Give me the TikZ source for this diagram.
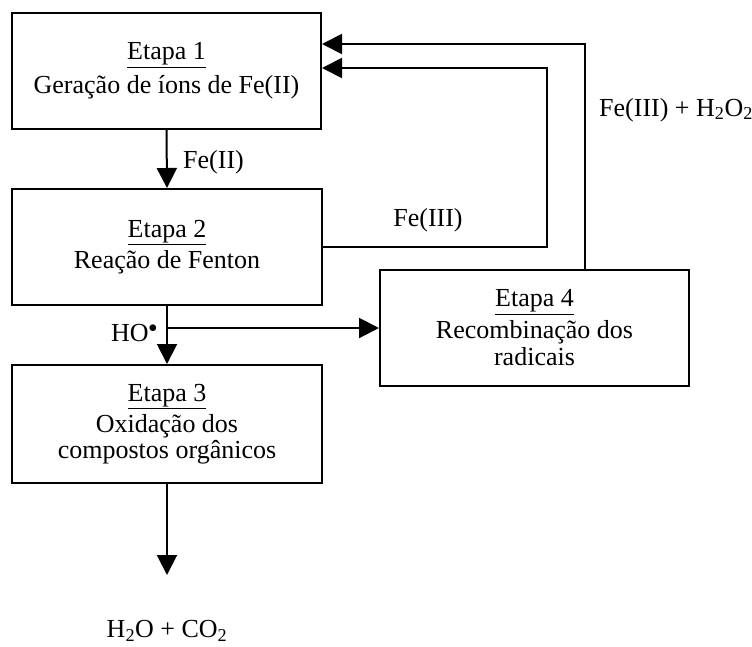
\documentclass[tikz,border=0pt]{standalone}
\usepackage{fontspec}
\setmainfont{Liberation Serif}
\usetikzlibrary{arrows.meta}
\begin{document}
\begin{tikzpicture}[x=1pt,y=-1pt,
  box/.style={draw,line width=2pt,rectangle,inner sep=0pt,align=center,
    font=\fontsize{26}{27}\selectfont},
  arr/.style={line width=2pt,-{Triangle[length=20pt,width=20pt]}},
  lbl/.style={font=\fontsize{26}{27}\selectfont,inner sep=0pt}]
\useasboundingbox (0,0) rectangle (752,646);
\node[box,minimum width=309pt,minimum height=116pt] (b1) at (166.5,71)
  {\underline{Etapa 1}\\[7pt]Geração de íons de Fe(II)};
\node[box,minimum width=310pt,minimum height=116pt] (b2) at (167,247)
  {\underline{Etapa 2}\\[4pt]Reação de Fenton};
\node[box,minimum width=310pt,minimum height=118pt] (b3) at (167,424)
  {\underline{Etapa 3}\\[4pt]Oxidação dos\\[-1pt]compostos orgânicos};
\node[box,minimum width=309pt,minimum height=116pt] (b4) at (534.5,328)
  {\underline{Etapa 4}\\[5pt]Recombinação dos\\radicais};
\coordinate (c1) at (547,68);
\coordinate (c2) at (585,44);
\coordinate (br) at (167,328);
\coordinate (end) at (167,575);
\draw[arr] (b1.south) -- (b2.north);
\draw[arr] (b2.south) -- (b3.north);
\draw[arr] (br) -- (b4.west);
\draw[arr] (b2.east) -| (c1) -- (b1.east |- c1);
\draw[arr] (b4.north -| c2) -- (c2) -- (b1.east |- c2);
\draw[arr] (b3.south) -- (end);
\node[lbl,anchor=west] (l1) at (183,162) {Fe(II)};
\node[lbl] (l2) at (428,220) {Fe(III)};
\node[lbl,anchor=west] (l3) at (599,110) {Fe(III) + H\textsubscript{2}O\textsubscript{2}};
\node[lbl,anchor=east] (l4) at (158,333) {HO$^{\bullet}$};
\node[lbl] (l5) at (167,631) {H\textsubscript{2}O + CO\textsubscript{2}};
\end{tikzpicture}
\end{document}
